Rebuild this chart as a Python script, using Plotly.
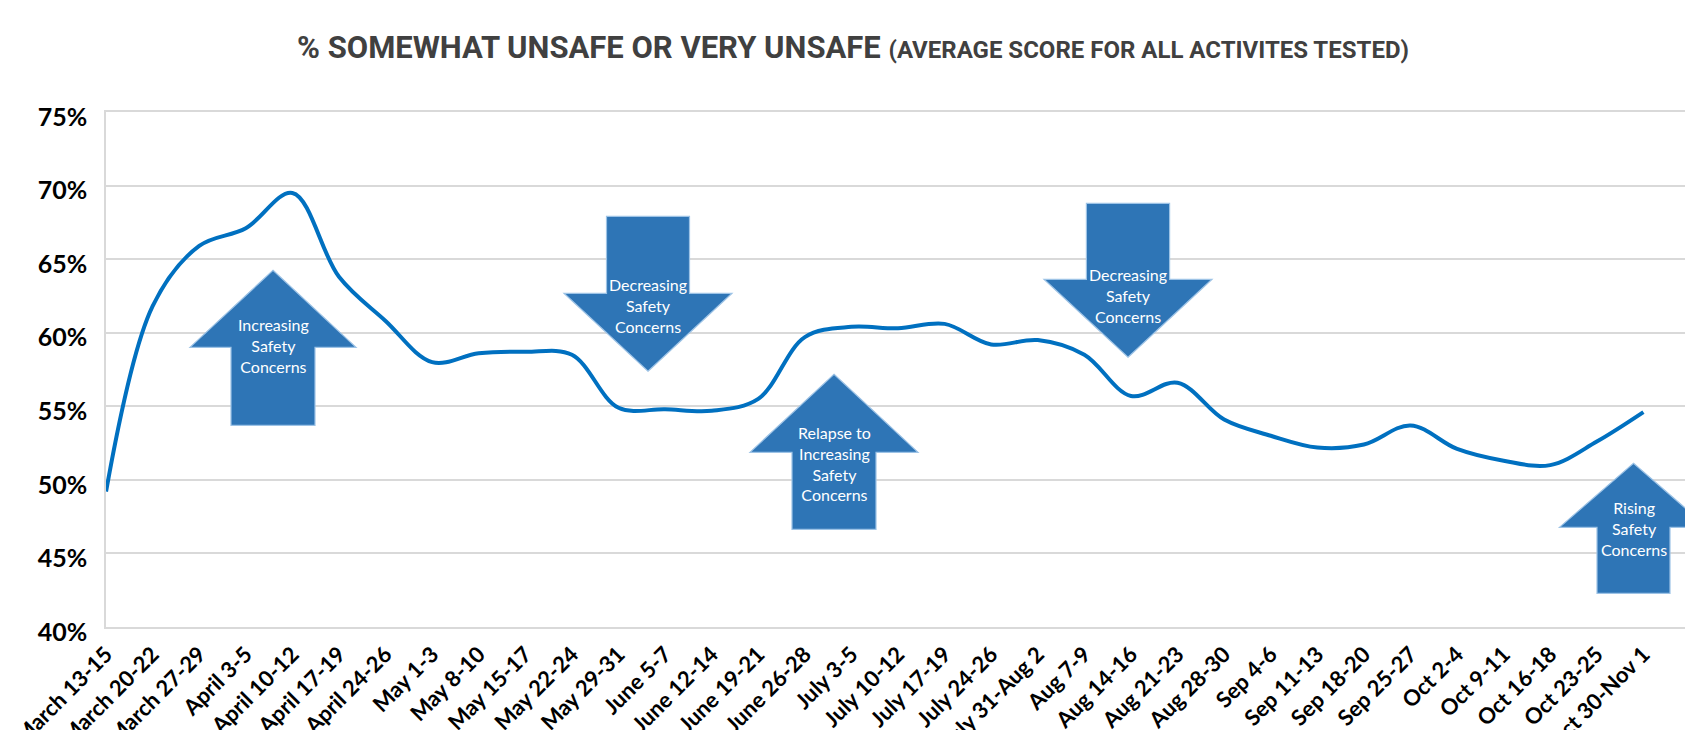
import plotly.graph_objects as go

categories = [
    "March 13-15", "March 20-22", "March 27-29", "April 3-5", "April 10-12",
    "April 17-19", "April 24-26", "May 1-3", "May 8-10", "May 15-17",
    "May 22-24", "May 29-31", "June 5-7", "June 12-14", "June 19-21",
    "June 26-28", "July 3-5", "July 10-12", "July 17-19", "July 24-26",
    "July 31-Aug 2", "Aug 7-9", "Aug 14-16", "Aug 21-23", "Aug 28-30",
    "Sep 4-6", "Sep 11-13", "Sep 18-20", "Sep 25-27", "Oct 2-4",
    "Oct 9-11", "Oct 16-18", "Oct 23-25", "Oct 30-Nov 1",
]
pct_unsafe = [
    49.2, 61.8, 65.9, 67.1, 69.5,
    63.8, 60.8, 58.0, 58.6, 58.7,
    58.5, 54.9, 54.8, 54.7, 55.5,
    59.7, 60.4, 60.3, 60.6, 59.2,
    59.5, 58.5, 55.7, 56.6, 54.1,
    53.0, 52.2, 52.4, 53.7, 52.1,
    51.3, 51.0, 52.6, 54.6,
]
y_ticks = [40, 45, 50, 55, 60, 65, 70, 75]
y_tick_labels = ["40%", "45%", "50%", "55%", "60%", "65%", "70%", "75%"]

title_main = "% SOMEWHAT UNSAFE OR VERY UNSAFE"
title_sub = "(AVERAGE SCORE FOR ALL ACTIVITES TESTED)"

# callout arrows: (direction, text lines)
arrow_texts = [
    ("up", ["Increasing", "Safety", "Concerns"]),
    ("down", ["Decreasing", "Safety", "Concerns"]),
    ("up", ["Relapse to", "Increasing", "Safety", "Concerns"]),
    ("down", ["Decreasing", "Safety", "Concerns"]),
    ("up", ["Rising", "Safety", "Concerns"]),
]

# page has an 8px body margin, so the figure is placed at (8, 8) in the window
OFF = 8
WIN_W, WIN_H = 1693, 730
W, H = WIN_W - OFF, WIN_H - OFF
# plot area in window pixels
PL, PR, PT, PB = 106, 1690, 111.7, 626.7
ML, MR, MT, MB = PL - OFF, W - (PR - OFF), PT - OFF, H - (PB - OFF)
PW, PH = PR - PL, PB - PT


def px(X):
    return (X - PL) / PW


def py(Y):
    return (PB - Y) / PH


# arrow geometry in window pixels: cx, head tip y, wing y, tail end y, shaft half, wing half, text center y
arrow_geom = [
    (273, 270, 347, 425, 42, 83, 345),
    (648, 371, 293, 216, 41.5, 84, 305),
    (834, 374, 452, 529, 42, 84, 463),
    (1128, 357, 279, 203, 41.6, 84, 295),
    (1633.5, 463, 527, 593, 36.5, 74, 528),
]

fig = go.Figure()
fig.add_trace(go.Scatter(
    x=list(range(len(categories))),
    y=pct_unsafe,
    mode="lines",
    line=dict(color="#0070C0", width=4, shape="spline", smoothing=1.0),
    hoverinfo="skip",
    showlegend=False,
))

shapes = []
annotations = []
for (direction, lines), (cx, tip, wing, end, sh, wh, ty) in zip(arrow_texts, arrow_geom):
    pts = [
        (cx, tip), (cx + wh, wing), (cx + sh, wing), (cx + sh, end),
        (cx - sh, end), (cx - sh, wing), (cx - wh, wing),
    ]
    path = "M " + " L ".join(f"{px(a):.5f},{py(b):.5f}" for a, b in pts) + " Z"
    shapes.append(dict(
        type="path", xref="paper", yref="paper", path=path,
        fillcolor="#2E75B6", line=dict(color="#9DC3E6", width=1.2), layer="above",
    ))
    annotations.append(dict(
        xref="paper", yref="paper", x=px(cx), y=py(ty),
        xanchor="center", yanchor="middle", showarrow=False,
        text="<br>".join(lines),
        font=dict(family="Lato, Noto Sans, sans-serif", size=16, color="white"),
        align="center",
    ))

fig.update_layout(
    width=W, height=H,
    margin=dict(l=ML, r=MR, t=MT, b=MB, autoexpand=False),
    paper_bgcolor="white", plot_bgcolor="white",
    title=dict(
        text=f"<b>{title_main} <span style='font-size:24px'>{title_sub}</span></b>",
        x=(853 - OFF) / W, xref="container", xanchor="center",
        y=1 - (47 - OFF) / H, yref="container", yanchor="middle",
        font=dict(family="Roboto, sans-serif", size=31, color="#404040"),
    ),
    xaxis=dict(
        range=[-0.001, len(categories)],
        tickmode="array",
        tickvals=list(range(len(categories))),
        ticktext=categories,
        tickangle=-45,
        tickfont=dict(family="Lato, Noto Sans, sans-serif", size=22, color="black",
                      weight="bold"),
        showgrid=False, zeroline=False,
        showline=True, linecolor="#D9D9D9", linewidth=1.5, mirror=True,
        ticks="", automargin=False, ticklabelstandoff=4,
    ),
    yaxis=dict(
        range=[40, 75],
        tickmode="array", tickvals=y_ticks, ticktext=y_tick_labels,
        tickfont=dict(family="Lato, Noto Sans, sans-serif", size=25, color="black", weight="bold"),
        showgrid=True, gridcolor="#D9D9D9", gridwidth=1.5,
        zeroline=False,
        showline=True, linecolor="#D9D9D9", linewidth=1.5, mirror=True,
        ticks="", ticklabelstandoff=12, ticklabelshift=5, automargin=False,
    ),
    shapes=shapes,
    annotations=annotations,
)

fig.write_html("out.html")
